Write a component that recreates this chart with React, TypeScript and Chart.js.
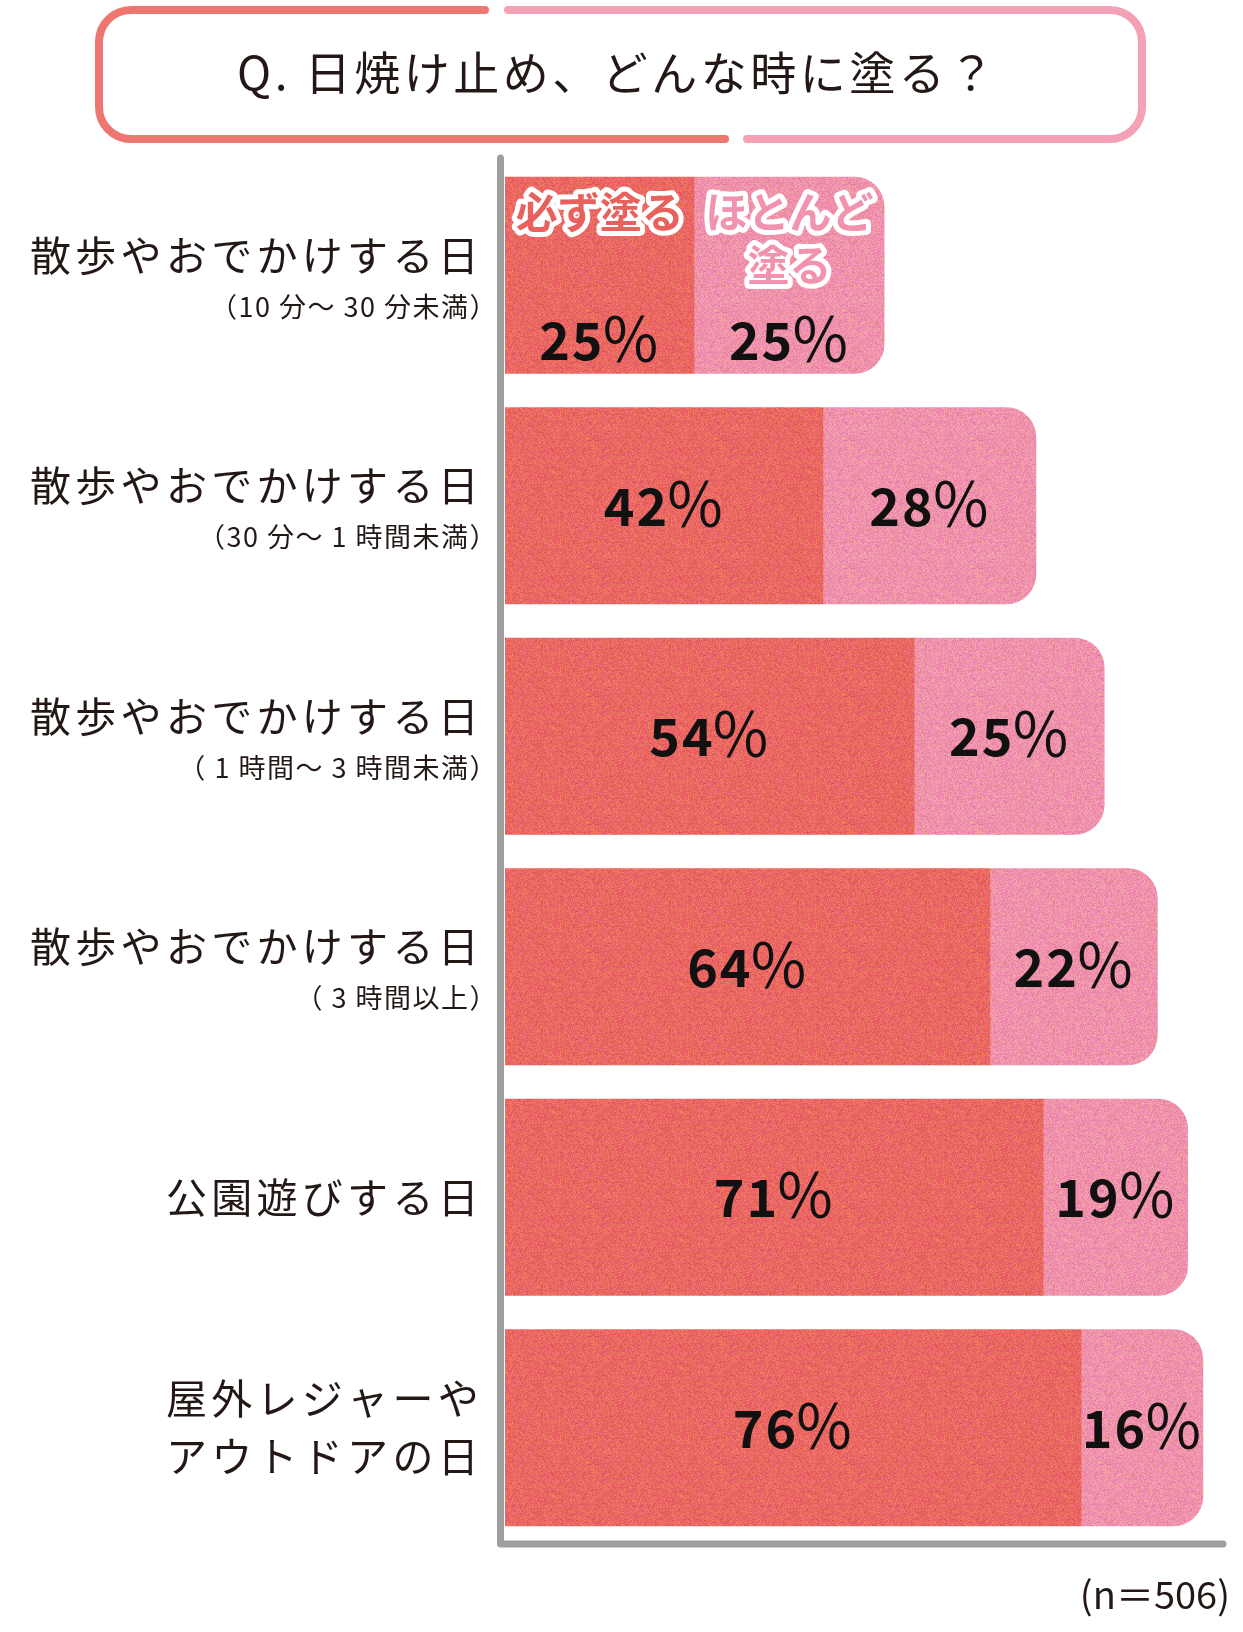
import React, { useEffect, useRef } from 'react';
import { Chart, registerables } from 'chart.js';

Chart.register(...registerables);

// 回答項目
const categories = [
  '散歩やおでかけする日',
  '散歩やおでかけする日',
  '散歩やおでかけする日',
  '散歩やおでかけする日',
  '公園遊びする日',
  '屋外レジャーや\nアウトドアの日',
];
const durations = [
  '（10 分〜 30 分未満）',
  '（30 分〜 1 時間未満）',
  '（ 1 時間〜 3 時間未満）',
  '（ 3 時間以上）',
  '',
  '',
];

// 割合 (%)
const mustApply = [25, 42, 54, 64, 71, 76];
const mostlyApply = [25, 28, 25, 22, 19, 16];

const seriesNames = ['必ず塗る', 'ほとんど塗る'];
const seriesTags = [['必ず塗る'], ['ほとんど', '塗る']];

const titleText = 'Q. 日焼け止め、どんな時に塗る？';
const noteText = '(n＝506)';

const FONT = '"Noto Sans CJK JP", "Noto Sans CJK SC", sans-serif';
const INK = '#231815';
const RED_RGB = [234, 104, 99];
const PINK_RGB = [239, 146, 171];

const fract = (v: number) => v - Math.floor(v);
const clamp = (v: number) => Math.max(0, Math.min(255, Math.round(v)));

// 紙っぽいザラザラ感のパターン
function makeGrain(rgb: number[]) {
  const size = 128;
  const c = document.createElement('canvas');
  c.width = size;
  c.height = size;
  const g = c.getContext('2d')!;
  const img = g.createImageData(size, size);
  for (let i = 0; i < size * size; i++) {
    const l = (fract(Math.sin(i * 12.9898) * 43758.5453) - 0.5) * 34;
    const t = (fract(Math.sin(i * 78.233 + 1.7) * 24634.6345) - 0.5) * 36;
    img.data[i * 4] = clamp(rgb[0] + l * 0.5);
    img.data[i * 4 + 1] = clamp(rgb[1] + l + t);
    img.data[i * 4 + 2] = clamp(rgb[2] + l - t);
    img.data[i * 4 + 3] = 255;
  }
  g.putImageData(img, 0, 0);
  return g.createPattern(c, 'repeat')!;
}

const titleBox = {
  id: 'titleBox',
  beforeDraw(chart: Chart) {
    const ctx = chart.ctx;
    const l = 99, r = 1142, t = 10, b = 139, rad = 32;
    ctx.save();
    ctx.lineWidth = 8;
    ctx.lineCap = 'round';
    ctx.lineJoin = 'round';
    ctx.strokeStyle = '#EE7671';
    ctx.beginPath();
    ctx.moveTo(485, t);
    ctx.arcTo(l, t, l, b, rad);
    ctx.arcTo(l, b, r, b, rad);
    ctx.lineTo(725, b);
    ctx.stroke();
    ctx.strokeStyle = '#F4A1B5';
    ctx.beginPath();
    ctx.moveTo(508, t);
    ctx.arcTo(r, t, r, b, rad);
    ctx.arcTo(r, b, l, b, rad);
    ctx.lineTo(747, b);
    ctx.stroke();
    ctx.restore();
  },
};

const categoryLabels = {
  id: 'categoryLabels',
  afterDraw(chart: Chart) {
    const ctx = chart.ctx;
    const yScale = chart.scales.y;
    ctx.save();
    ctx.fillStyle = INK;
    ctx.textAlign = 'right';
    ctx.textBaseline = 'middle';
    categories.forEach((name, i) => {
      const cy = yScale.getPixelForValue(i);
      const lines = name.split('\n');
      ctx.font = `400 41px ${FONT}`;
      ctx.letterSpacing = '4.3px';
      if (durations[i]) {
        ctx.fillText(lines[0], 483, cy - 20);
        ctx.font = `400 27px ${FONT}`;
        ctx.letterSpacing = '1.5px';
        ctx.fillText(durations[i], 498, cy + 31);
      } else if (lines.length > 1) {
        ctx.fillText(lines[0], 483, cy - 29);
        ctx.fillText(lines[1], 483, cy + 29);
      } else {
        ctx.fillText(lines[0], 483, cy);
      }
    });
    ctx.restore();
  },
};

const barLabels = {
  id: 'barLabels',
  afterDatasetsDraw(chart: Chart) {
    const ctx = chart.ctx;
    ctx.save();
    ctx.textBaseline = 'middle';
    chart.data.datasets.forEach((ds, di) => {
      const meta = chart.getDatasetMeta(di);
      meta.data.forEach((bar: any, i) => {
        const { x, y, base, height } = bar.getProps(['x', 'y', 'base', 'height'], true);
        const cx = (x + base) / 2;
        const top = y - height / 2;
        const cy = i === 0 ? top + 164 : y;

        // 数字は太字、％は細めで大きめ
        const digits = String(ds.data[i]);
        ctx.textAlign = 'left';
        ctx.font = `700 52px ${FONT}`;
        ctx.letterSpacing = '2px';
        const dw = ctx.measureText(digits).width;
        ctx.font = `400 60px ${FONT}`;
        ctx.letterSpacing = '0px';
        const pw = ctx.measureText('％').width;
        const sx = cx - (dw + pw) / 2 + 2;
        ctx.fillStyle = '#111111';
        ctx.font = `700 52px ${FONT}`;
        ctx.letterSpacing = '2px';
        ctx.fillText(digits, sx, cy);
        ctx.font = `400 60px ${FONT}`;
        ctx.letterSpacing = '0px';
        ctx.fillText('％', sx + dw - 4, cy - 2);

        // 1 本目のバーに凡例代わりの見出し
        if (i === 0) {
          ctx.textAlign = 'center';
          ctx.font = `700 42px ${FONT}`;
          ctx.lineJoin = 'round';
          ctx.lineWidth = 10;
          ctx.strokeStyle = '#FFFFFF';
          ctx.fillStyle = di === 0 ? '#E8615D' : '#F193AE';
          seriesTags[di].forEach((line, li) => {
            const ly = top + 35 + li * 53;
            ctx.strokeText(line, cx, ly);
            ctx.fillText(line, cx, ly);
          });
        }
      });
    });
    ctx.restore();
  },
};

const axisLines = {
  id: 'axisLines',
  afterDatasetsDraw(chart: Chart) {
    const ctx = chart.ctx;
    const { left, bottom } = chart.chartArea;
    ctx.save();
    ctx.strokeStyle = '#9F9FA0';
    ctx.lineWidth = 7;
    ctx.lineCap = 'round';
    ctx.lineJoin = 'round';
    ctx.beginPath();
    ctx.moveTo(left - 4.5, 158);
    ctx.lineTo(left - 4.5, bottom + 1);
    ctx.lineTo(1223, bottom + 1);
    ctx.stroke();
    ctx.restore();
  },
};

const App: React.FC = () => {
  const chartRef = useRef<HTMLCanvasElement>(null);
  const chartInstance = useRef<Chart | null>(null);

  useEffect(() => {
    if (!chartRef.current) return;
    if (chartInstance.current) {
      chartInstance.current.destroy();
    }
    const ctx = chartRef.current.getContext('2d');
    if (!ctx) return;

    const labels = categories.map((c, i) => c.replace('\n', '') + durations[i]);

    chartInstance.current = new Chart(ctx, {
      type: 'bar',
      data: {
        labels,
        datasets: [
          {
            label: seriesNames[0],
            data: mustApply,
            backgroundColor: makeGrain(RED_RGB),
            borderWidth: 0,
            borderRadius: 0,
          },
          {
            label: seriesNames[1],
            data: mostlyApply,
            backgroundColor: makeGrain(PINK_RGB),
            borderWidth: 0,
            borderRadius: { topLeft: 0, bottomLeft: 0, topRight: 30, bottomRight: 30 },
          },
        ],
      },
      options: {
        indexAxis: 'y',
        responsive: false,
        animation: false,
        maintainAspectRatio: false,
        layout: {
          padding: { top: 160, bottom: 89, left: 0, right: 17 },
        },
        datasets: {
          bar: {
            categoryPercentage: 1,
            barPercentage: 0.855,
          },
        },
        plugins: {
          legend: { display: false },
          tooltip: { enabled: false },
          title: { display: false },
        },
        scales: {
          x: {
            display: false,
            stacked: true,
            min: 0,
            max: 95,
          },
          y: {
            stacked: true,
            grid: { display: false },
            border: { display: false },
            ticks: { display: false },
            afterFit: (scale) => {
              scale.width = 505;
            },
          },
        },
      },
      plugins: [titleBox, categoryLabels, barLabels, axisLines],
    });

    return () => {
      if (chartInstance.current) {
        chartInstance.current.destroy();
        chartInstance.current = null;
      }
    };
  }, []);

  return (
    <div
      style={{
        position: 'absolute',
        left: 0,
        top: 0,
        width: 1243,
        height: 1632,
        background: '#FFFFFF',
        fontFamily: FONT,
        color: INK,
      }}
    >
      <canvas ref={chartRef} width={1243} height={1632} style={{ display: 'block' }} />
      <div
        style={{
          position: 'absolute',
          left: 237,
          top: 47,
          fontSize: 46,
          lineHeight: '46px',
          letterSpacing: 3.5,
          whiteSpace: 'nowrap',
        }}
      >
        {titleText}
      </div>
      <div
        style={{
          position: 'absolute',
          right: 13,
          top: 1574,
          fontSize: 38,
          lineHeight: '38px',
          whiteSpace: 'nowrap',
        }}
      >
        {noteText}
      </div>
    </div>
  );
};

export default App;
